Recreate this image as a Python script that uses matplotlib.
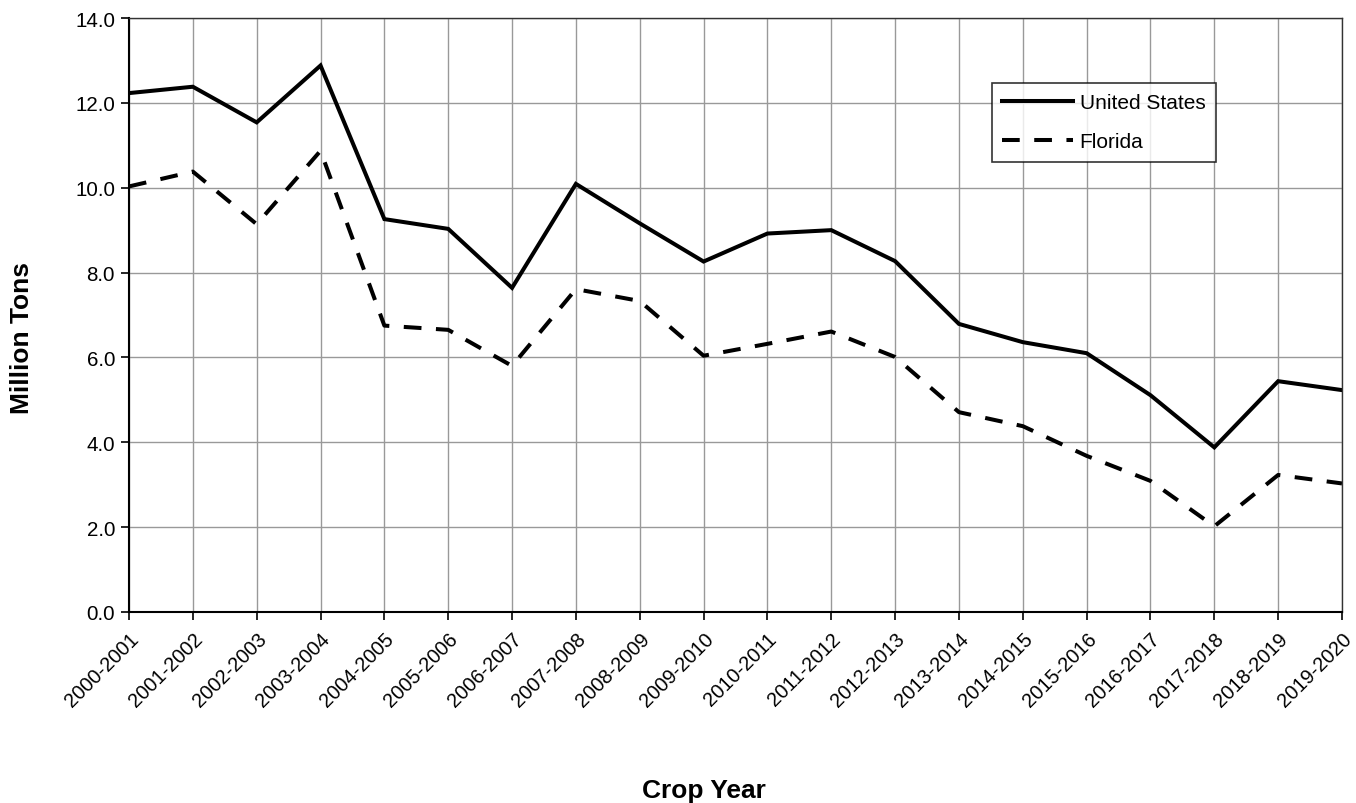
"""
Orange production, United States vs Florida
"""
import matplotlib
matplotlib.use('Agg')
import matplotlib.pyplot as plt
import numpy as np

# ###
# 1.Data
# ###
crop_years = ['2000-2001', '2001-2002', '2002-2003', '2003-2004', '2004-2005',
              '2005-2006', '2006-2007', '2007-2008', '2008-2009', '2009-2010',
              '2010-2011', '2011-2012', '2012-2013', '2013-2014', '2014-2015',
              '2015-2016', '2016-2017', '2017-2018', '2018-2019', '2019-2020']
us_tons = [12.23, 12.38, 11.54, 12.88, 9.26, 9.03, 7.64, 10.09, 9.16, 8.26,
           8.92, 9.00, 8.27, 6.79, 6.36, 6.10, 5.11, 3.88, 5.44, 5.23]
fl_tons = [10.03, 10.38, 9.14, 10.87, 6.75, 6.65, 5.80, 7.61, 7.33, 6.04,
           6.32, 6.61, 6.01, 4.71, 4.38, 3.68, 3.09, 2.02, 3.23, 3.03]
y_ticks = [0, 2, 4, 6, 8, 10, 12, 14]

# ###
# 2.Plot settings
# ###
FONT_NAME   = 'Liberation Sans'
TICK_SIZE   = 14.8
LABEL_SIZE  = 19
LEGEND_SIZE = 15
LINE_WIDTH  = 2.9
GRID_COLOR  = '#999999'

plt.rcParams['font.family'] = [FONT_NAME, 'DejaVu Sans']

fig = plt.figure(figsize=(13.56, 8.04), dpi=100, facecolor='w')
ax = fig.add_axes([129/1356, 1-613/804, (1342-129)/1356, (613-19)/804])

x = np.arange(len(crop_years))
ax.plot(x, us_tons, color='k', lw=LINE_WIDTH, solid_joinstyle='miter', label='United States')
ax.plot(x, fl_tons, color='k', lw=LINE_WIDTH, linestyle=(0, (4.4, 3.6)), label='Florida')

ax.set_xlim(0, len(crop_years) - 1)
ax.set_ylim(0, 14)
ax.set_yticks(y_ticks)
ax.set_yticklabels(['%.1f' % v for v in y_ticks], fontsize=TICK_SIZE)
ax.set_xticks(x)
ax.set_xticklabels(crop_years, rotation=45, ha='right', rotation_mode='anchor', fontsize=TICK_SIZE - 0.4)
ax.tick_params(axis='both', direction='out', length=6, width=1.2, color='k', pad=4)
ax.tick_params(axis='x', pad=6)

ax.grid(True, color=GRID_COLOR, lw=1.0)
ax.set_axisbelow(True)
for s in ax.spines.values():
    s.set_linewidth(1.0)
    s.set_color('#333333')
ax.spines['left'].set_color('k')
ax.spines['bottom'].set_color('k')
ax.spines['left'].set_linewidth(1.5)
ax.spines['bottom'].set_linewidth(1.5)

fig.text(22/1356, 1-338/804, 'Million Tons', rotation=90, ha='center', va='center',
         fontsize=LABEL_SIZE, fontweight='bold')
fig.text(704/1356, 1-798/804, 'Crop Year', ha='center', va='baseline',
         fontsize=LABEL_SIZE, fontweight='bold')

leg = ax.legend(loc='upper left', bbox_to_anchor=((992-129)/1213, 1-(84-19)/594),
                fontsize=LEGEND_SIZE, frameon=True, fancybox=False, edgecolor='k',
                handlelength=3.4, handletextpad=0.3, borderpad=0.5, labelspacing=0.95,
                borderaxespad=0)
leg.get_frame().set_linewidth(1.2)

plt.savefig('out.png', dpi=100, facecolor='w')
plt.close(fig)
